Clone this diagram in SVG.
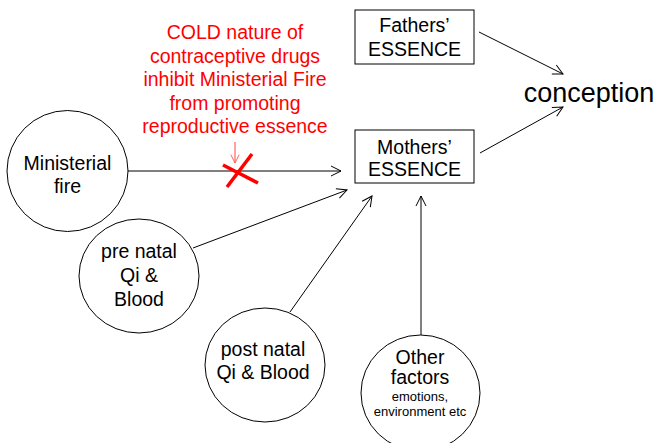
<svg xmlns="http://www.w3.org/2000/svg" width="661" height="443" viewBox="0 0 661 443">
<defs>
<style>
text{font-family:"Liberation Sans",Arial,sans-serif;font-size:19.5px;fill:#000;text-anchor:middle}
.node{fill:#fff;stroke:#000;stroke-width:1}
.conn{stroke:#000;stroke-width:1;fill:none;marker-end:url(#ah)}
.red{fill:#f00}
.small{font-size:13px}
</style>
<marker id="ah" viewBox="0 0 12 12" refX="11" refY="6" markerWidth="12" markerHeight="12" markerUnits="userSpaceOnUse" orient="auto">
<polyline points="1,1 11,6 1,11" fill="none" stroke="#000" stroke-width="1"/>
</marker>
<marker id="ahr" viewBox="0 0 12 12" refX="11" refY="6" markerWidth="10" markerHeight="10" markerUnits="userSpaceOnUse" orient="auto">
<polyline points="1,1 11,6 1,11" fill="none" stroke="#f55" stroke-width="1.1"/>
</marker>
</defs>
<rect width="661" height="443" fill="#fff"/>
<g id="connectors">
<line class="conn" x1="128" y1="171" x2="341" y2="171"/>
<line class="conn" x1="479" y1="32" x2="563" y2="74"/>
<line class="conn" x1="480" y1="153" x2="563" y2="107"/>
<line class="conn" x1="193" y1="248" x2="347" y2="190"/>
<line class="conn" x1="290" y1="312" x2="372" y2="196"/>
<line class="conn" x1="421" y1="335" x2="421" y2="196"/>
</g>
<g id="fathers">
<rect class="node" x="355" y="10" width="119" height="54"/>
<text x="414.5" y="32">Fathers’</text>
<text x="414.5" y="56">ESSENCE</text>
</g>
<g id="mothers">
<rect class="node" x="355" y="130" width="119" height="53"/>
<text x="414.5" y="154">Mothers’</text>
<text x="414.5" y="176">ESSENCE</text>
</g>
<g id="conception">
<text x="589" y="102" style="font-size:27px">conception</text>
</g>
<g id="ministerial">
<circle class="node" cx="67.5" cy="171" r="60.5"/>
<text x="67.5" y="170">Ministerial</text>
<text x="67.5" y="193">fire</text>
</g>
<g id="prenatal">
<ellipse class="node" cx="139" cy="276" rx="60" ry="57"/>
<text x="139" y="258">pre natal</text>
<text x="139" y="282">Qi &amp;</text>
<text x="139" y="306">Blood</text>
</g>
<g id="postnatal">
<ellipse class="node" cx="265" cy="365" rx="60" ry="57"/>
<text x="263" y="356">post natal</text>
<text x="263" y="379">Qi &amp; Blood</text>
</g>
<g id="other">
<ellipse class="node" cx="420.5" cy="393" rx="59.5" ry="58"/>
<text x="420" y="364">Other</text>
<text x="420" y="384">factors</text>
<text class="small" x="420" y="401">emotions,</text>
<text class="small" x="420" y="416">environment etc</text>
</g>
<g id="annotation">
<text class="red" x="235" y="39">COLD nature of</text>
<text class="red" x="235" y="62.5">contraceptive drugs</text>
<text class="red" x="235" y="86">inhibit Ministerial Fire</text>
<text class="red" x="235" y="109.5">from promoting</text>
<text class="red" x="235" y="133">reproductive essence</text>
<line x1="235" y1="142" x2="235" y2="163" stroke="#f55" stroke-width="1.1" marker-end="url(#ahr)"/>
<line x1="252" y1="154" x2="227" y2="187" stroke="#f00" stroke-width="3.5"/>
<line x1="223" y1="165" x2="258" y2="183" stroke="#f00" stroke-width="3.5"/>
</g>
</svg>
